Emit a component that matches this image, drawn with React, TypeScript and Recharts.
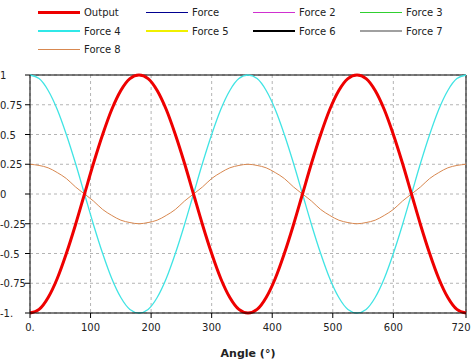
import { LineChart, Line, XAxis, YAxis, CartesianGrid, ReferenceLine } from "recharts"

const angles = [
  0, 15, 30, 45, 60, 75, 90, 105, 120, 135, 150, 165, 180, 195, 210, 225, 240, 255, 270, 285, 300, 315, 330, 345,
  360, 375, 390, 405, 420, 435, 450, 465, 480, 495, 510, 525, 540, 555, 570, 585, 600, 615, 630, 645, 660, 675, 690,
  705, 720,
]

const output = [
  -1, -0.97, -0.87, -0.71, -0.5, -0.26, 0, 0.26, 0.5, 0.71, 0.87, 0.97, 1, 0.97, 0.87, 0.71, 0.5, 0.26, 0, -0.26,
  -0.5, -0.71, -0.87, -0.97, -1, -0.97, -0.87, -0.71, -0.5, -0.26, 0, 0.26, 0.5, 0.71, 0.87, 0.97, 1, 0.97, 0.87,
  0.71, 0.5, 0.26, 0, -0.26, -0.5, -0.71, -0.87, -0.97, -1,
]

const force4 = [
  1, 0.97, 0.87, 0.71, 0.5, 0.26, 0, -0.26, -0.5, -0.71, -0.87, -0.97, -1, -0.97, -0.87, -0.71, -0.5, -0.26, 0, 0.26,
  0.5, 0.71, 0.87, 0.97, 1, 0.97, 0.87, 0.71, 0.5, 0.26, 0, -0.26, -0.5, -0.71, -0.87, -0.97, -1, -0.97, -0.87,
  -0.71, -0.5, -0.26, 0, 0.26, 0.5, 0.71, 0.87, 0.97, 1,
]

const force8 = [
  0.25, 0.24, 0.22, 0.18, 0.13, 0.06, 0, -0.06, -0.13, -0.18, -0.22, -0.24, -0.25, -0.24, -0.22, -0.18, -0.13,
  -0.06, 0, 0.06, 0.13, 0.18, 0.22, 0.24, 0.25, 0.24, 0.22, 0.18, 0.13, 0.06, 0, -0.06, -0.13, -0.18, -0.22, -0.24,
  -0.25, -0.24, -0.22, -0.18, -0.13, -0.06, 0, 0.06, 0.13, 0.18, 0.22, 0.24, 0.25,
]

const xTicks = [0, 100, 200, 300, 400, 500, 600, 720]
const yTicks = [-1, -0.75, -0.5, -0.25, 0, 0.25, 0.5, 0.75, 1]

// legend entries, in the order they appear (4 per row)
const legend = [
  { name: "Output", color: "#ee0000", width: 3 },
  { name: "Force", color: "#000090", width: 1 },
  { name: "Force 2", color: "#d030d0", width: 1 },
  { name: "Force 3", color: "#30d030", width: 1 },
  { name: "Force 4", color: "#30e8e8", width: 2 },
  { name: "Force 5", color: "#f0f000", width: 2 },
  { name: "Force 6", color: "#000000", width: 2 },
  { name: "Force 7", color: "#a0a0a0", width: 2 },
  { name: "Force 8", color: "#d88850", width: 1 },
]

const data = angles.map((a, i) => ({
  angle: a,
  output: output[i],
  force4: force4[i],
  force8: force8[i],
}))

const font = "Tahoma, 'DejaVu Sans', sans-serif"

function fmtY(v: number) {
  if (v === -1) return "-1."
  return String(v)
}

function fmtX(v: number) {
  if (v === 0) return "0."
  return String(v)
}

function YTick(props: any) {
  const { y, payload } = props
  return (
    <text x={0} y={y} dy={4} textAnchor="start" fontSize={10} fill="#222" fontFamily={font}>
      {fmtY(payload.value)}
    </text>
  )
}

function XTick(props: any) {
  const { x, y, payload } = props
  return (
    <text x={x} y={y} dy={11} textAnchor="middle" fontSize={10} fill="#222" fontFamily={font}>
      {fmtX(payload.value)}
    </text>
  )
}

export default function App() {
  const colX = [38, 146, 253, 360]
  const rowY = [12, 31, 49]
  return (
    <div style={{ position: "absolute", left: 0, top: 0, width: 473, height: 362, background: "#fff" }}>
      <svg width={473} height={60} style={{ position: "absolute", left: 0, top: 0 }}>
        {legend.map((l, i) => {
          const x = colX[i % 4]
          const y = rowY[Math.floor(i / 4)] + (l.width % 2 === 1 ? 0.5 : 0)
          return (
            <g key={l.name}>
              <line x1={x} x2={x + 42} y1={y} y2={y} stroke={l.color} strokeWidth={l.width} />
              <text x={x + 46} y={rowY[Math.floor(i / 4)] + 4} fontSize={10} fill="#222" fontFamily={font}>
                {l.name}
              </text>
            </g>
          )
        })}
      </svg>
      <div style={{ position: "absolute", left: 0, top: 0 }}>
        <LineChart width={473} height={362} data={data} margin={{ top: 75, right: 7, left: 0, bottom: 0 }}>
          <CartesianGrid stroke="#b4b4b4" strokeDasharray="3 3" horizontalValues={yTicks} verticalValues={xTicks} />
          <XAxis
            dataKey="angle"
            type="number"
            domain={[0, 720]}
            ticks={xTicks}
            height={49}
            tickSize={5}
            stroke="#000"
            tick={<XTick />}
            label={{
              value: "Angle (°)",
              position: "insideBottom",
              offset: 5,
              style: { fontSize: 11, fontWeight: "bold", fill: "#222", fontFamily: font },
            }}
          />
          <YAxis
            type="number"
            domain={[-1, 1]}
            ticks={yTicks}
            width={30}
            tickSize={5}
            stroke="#000"
            tick={<YTick />}
          />
          <ReferenceLine y={1} stroke="#000" />
          <ReferenceLine x={720} stroke="#000" />
          <Line dataKey="force4" stroke="#40e4e4" strokeWidth={1.3} dot={false} type="monotone" isAnimationActive={false} />
          <Line dataKey="force8" stroke="#d88850" strokeWidth={1} dot={false} type="monotone" isAnimationActive={false} />
          <Line dataKey="output" stroke="#ee0000" strokeWidth={3} dot={false} type="monotone" isAnimationActive={false} />
        </LineChart>
      </div>
    </div>
  )
}
